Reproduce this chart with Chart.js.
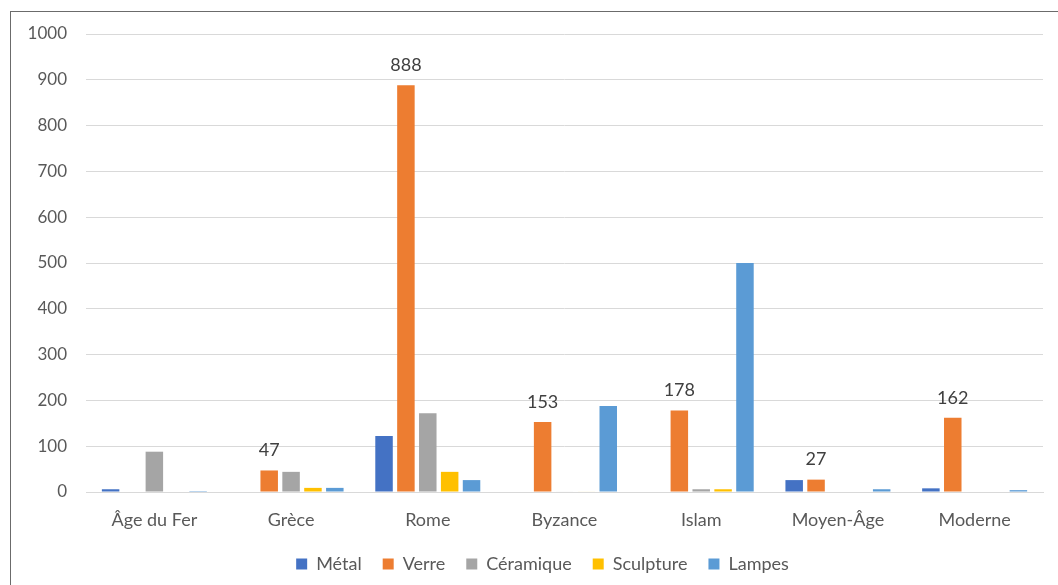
<!DOCTYPE html>
<html>
<head>
<meta charset="utf-8">
<script src="https://cdn.jsdelivr.net/npm/chart.js@4.4.1/dist/chart.umd.min.js"></script>
<style>
  html, body { margin: 0; padding: 0; background: #fff; overflow: hidden; }
  #wrap { position: relative; width: 1058px; height: 585px; }
  #frame { position: absolute; left: 10px; top: 11px; width: 1100px; height: 700px; border: 1px solid #6b6b6b; box-sizing: border-box; }
  canvas { position: absolute; left: 0; top: 0; }
</style>
</head>
<body>
<div id="wrap">
  <div id="frame"></div>
  <canvas id="chart" width="1058" height="585"></canvas>
</div>
<script>
// periods on the x axis
const periods = ['Âge du Fer', 'Grèce', 'Rome', 'Byzance', 'Islam', 'Moyen-Âge', 'Moderne'];

// one array per material
const metal = [6, 0, 122, 0, 0, 26, 8];
const verre = [0, 47, 888, 153, 178, 27, 162];
const ceramique = [88, 44, 172, 1, 6, 0, 0];
const sculpture = [0, 9, 44, 1, 6, 0, 0];
const lampes = [2, 9, 26, 188, 500, 6, 4];

const seriesNames = ['Métal', 'Verre', 'Céramique', 'Sculpture', 'Lampes'];
const seriesColors = ['#4472C4', '#ED7D31', '#A5A5A5', '#FFC000', '#5B9BD5'];

const yTicks = [0, 100, 200, 300, 400, 500, 600, 700, 800, 900, 1000];

const textColor = '#595959';
const fontFamily = 'Lato, "Open Sans", sans-serif';

// draws the value above the Verre bars only, like the source chart
const verreLabels = {
  id: 'verreLabels',
  afterDatasetsDraw(chart) {
    const ctx = chart.ctx;
    const meta = chart.getDatasetMeta(1);
    ctx.save();
    ctx.font = '18px ' + fontFamily;
    ctx.fillStyle = '#404040';
    ctx.textAlign = 'center';
    ctx.textBaseline = 'middle';
    meta.data.forEach((bar, i) => {
      const value = verre[i];
      if (value > 0) {
        ctx.fillText(String(value), bar.x, bar.y - 20);
      }
    });
    ctx.restore();
  },
};

// the legend in the source sits a bit right of the canvas centre
const nudgeLegend = {
  id: 'nudgeLegend',
  afterLayout(chart) {
    chart.legend.left += 21;
    chart.legend.right += 21;
  },
};

const allSeries = [metal, verre, ceramique, sculpture, lampes];

const ctx = document.getElementById('chart');
const chart = new Chart(ctx, {
  type: 'bar',
  data: {
    labels: periods,
    datasets: allSeries.map((values, i) => ({
      label: seriesNames[i],
      data: values,
      backgroundColor: seriesColors[i],
      borderWidth: 0,
      categoryPercentage: 0.8,
      barPercentage: 0.8,
    })),
  },
  options: {
    responsive: false,
    animation: false,
    layout: { padding: { left: 0, right: 15, top: 34, bottom: 2 } },
    plugins: {
      tooltip: { enabled: false },
      legend: {
        position: 'bottom',
        labels: {
          color: textColor,
          font: { family: fontFamily, size: 18 },
          boxWidth: 11,
          boxHeight: 11,
          padding: 21,
        },
      },
    },
    scales: {
      x: {
        grid: { display: false },
        border: { color: '#D9D9D9', width: 1 },
        ticks: { color: textColor, font: { family: fontFamily, size: 18 }, padding: 9 },
        afterFit(scale) { scale.height = 42; },
      },
      y: {
        min: 0,
        max: 1000,
        afterBuildTicks(scale) { scale.ticks = yTicks.map((v) => ({ value: v })); },
        grid: { color: '#D9D9D9', lineWidth: 1, drawTicks: false },
        border: { display: false },
        ticks: {
          color: textColor,
          font: { family: fontFamily, size: 17 },
          padding: 19,
          callback: (v) => String(v),
        },
        afterFit(scale) { scale.width = 86; },
      },
    },
  },
  plugins: [verreLabels, nudgeLegend],
});
</script>
</body>
</html>
